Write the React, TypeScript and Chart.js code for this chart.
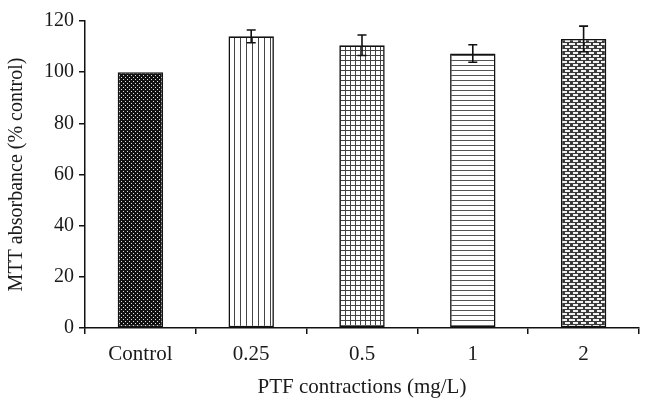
import React, { useEffect, useRef } from "react";
import { Chart, registerables } from "chart.js";

Chart.register(...registerables);

const categories = ["Control", "0.25", "0.5", "1", "2"];
const values = [100, 114, 110.5, 107.3, 113];
const errors = [0, 2.5, 4, 3.4, 5];
const yTicks = [0, 20, 40, 60, 80, 100, 120];

function makeTile(w: number, h: number, draw: (c: CanvasRenderingContext2D) => void): CanvasPattern {
  const cv = document.createElement("canvas");
  cv.width = w;
  cv.height = h;
  const c = cv.getContext("2d")!;
  draw(c);
  const main = document.createElement("canvas").getContext("2d")!;
  return main.createPattern(cv, "repeat")!;
}

function patterns(): CanvasPattern[] {
  const dots = makeTile(4, 4, (c) => {
    c.fillStyle = "#111";
    c.fillRect(0, 0, 4, 4);
    c.fillStyle = "#e0e0e0";
    c.fillRect(1, 1, 1, 1);
    c.fillRect(3, 3, 1, 1);
  });
  const vert = makeTile(6, 6, (c) => {
    c.fillStyle = "#fff";
    c.fillRect(0, 0, 6, 6);
    c.fillStyle = "#444";
    c.fillRect(0, 0, 1, 6);
  });
  const grid = makeTile(5, 5, (c) => {
    c.fillStyle = "#fff";
    c.fillRect(0, 0, 5, 5);
    c.fillStyle = "#444";
    c.fillRect(0, 0, 1, 5);
    c.fillRect(0, 0, 5, 1);
  });
  const horiz = makeTile(6, 5, (c) => {
    c.fillStyle = "#fff";
    c.fillRect(0, 0, 6, 5);
    c.fillStyle = "#555";
    c.fillRect(0, 0, 6, 1);
  });
  const brick = makeTile(8, 6, (c) => {
    c.fillStyle = "#3a3a3a";
    c.fillRect(0, 0, 8, 6);
    c.fillStyle = "#f2f2f2";
    c.fillRect(1, 1, 6, 2);
    c.fillRect(5, 4, 3, 2);
    c.fillRect(0, 4, 2, 2);
  });
  return [dots, vert, grid, horiz, brick];
}

const errorBarPlugin = {
  id: "errorBars",
  afterDatasetsDraw(chart: any) {
    const ctx = chart.ctx;
    const meta = chart.getDatasetMeta(0);
    const y = chart.scales.y;
    ctx.save();
    ctx.strokeStyle = "#111";
    ctx.lineWidth = 1.6;
    meta.data.forEach((bar: any, i: number) => {
      const e = errors[i];
      if (!e) return;
      const x = bar.x;
      const top = y.getPixelForValue(values[i] + e);
      const bot = y.getPixelForValue(values[i] - e);
      ctx.beginPath();
      ctx.moveTo(x, top);
      ctx.lineTo(x, bot);
      ctx.moveTo(x - 4.5, top);
      ctx.lineTo(x + 4.5, top);
      ctx.moveTo(x - 4.5, bot);
      ctx.lineTo(x + 4.5, bot);
      ctx.stroke();
    });
    ctx.restore();
  },
};

export default function App() {
  const ref = useRef<HTMLCanvasElement>(null);
  useEffect(() => {
    document.body.style.margin = "0";
    const family = "'Liberation Serif', 'Times New Roman', serif";
    const tickFontY = { family, size: 20 };
    const tickFontX = { family, size: 21 };
    const titleFontX = { family, size: 21 };
    const titleFontY = { family, size: 20 };
    const chart = new Chart(ref.current!, {
      type: "bar",
      data: {
        labels: categories,
        datasets: [
          {
            data: values,
            backgroundColor: patterns() as any,
            borderColor: "#111",
            borderWidth: 1.6,
            borderSkipped: false,
            categoryPercentage: 1,
            barPercentage: 0.41,
          },
        ],
      },
      options: {
        animation: false,
        responsive: true,
        maintainAspectRatio: false,
        layout: { padding: { left: 0, right: 14, top: 21, bottom: 0 } },
        plugins: { legend: { display: false }, tooltip: { enabled: false } },
        scales: {
          x: {
            offset: true,
            border: { color: "#111", width: 1.5 },
            grid: { display: true, drawOnChartArea: false, offset: true, color: "#111", lineWidth: 1.5, tickLength: 6 },
            ticks: { color: "#1a1a1a", font: tickFontX, padding: 8 },
            title: { display: true, text: "PTF contractions (mg/L)", color: "#1a1a1a", font: titleFontX, padding: { top: 4, bottom: 12 } },
            afterFit: (s: any) => {
              s.height = 84;
            },
          },
          y: {
            min: 0,
            max: 120,
            afterBuildTicks: (s: any) => {
              s.ticks = yTicks.map((v) => ({ value: v }));
            },
            border: { color: "#111", width: 1.5 },
            grid: { display: true, drawOnChartArea: false, color: "#111", lineWidth: 1.5, tickLength: 6 },
            ticks: { color: "#1a1a1a", font: tickFontY, padding: 5 },
            title: { display: true, text: "MTT absorbance (% control)", color: "#1a1a1a", font: titleFontY, padding: { top: 5, bottom: 4 } },
            afterFit: (s: any) => {
              s.width = 85;
            },
          },
        },
      },
      plugins: [errorBarPlugin],
    });
    return () => chart.destroy();
  }, []);
  return (
    <div style={{ width: 653, height: 412, position: "relative" }}>
      <canvas ref={ref} />
    </div>
  );
}
